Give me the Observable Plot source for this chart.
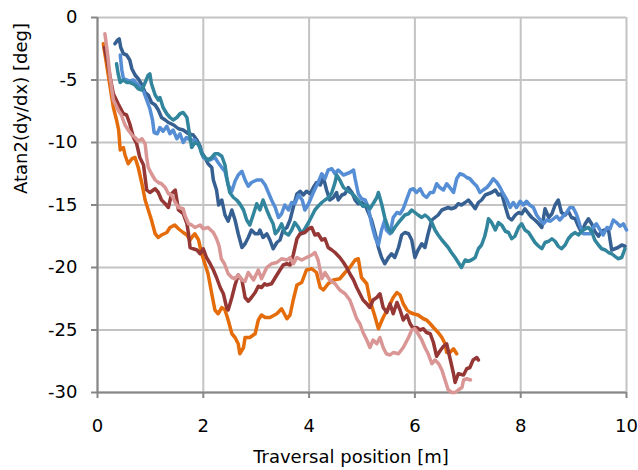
<!DOCTYPE html>
<html>
<head>
<meta charset="utf-8">
<script src="https://cdn.jsdelivr.net/npm/d3@7"></script>
<script src="https://cdn.jsdelivr.net/npm/@observablehq/plot@0.6"></script>
<style>
  html, body { margin: 0; padding: 0; background: #fff; }
  #chart svg { display: block; }
</style>
</head>
<body>
<div id="chart"></div>
<script>
// ---- data: each series is a list of [position (m), angle (deg)] pairs ----
const seriesNames = ["Run 1", "Run 2", "Run 3", "Run 4", "Run 5", "Run 6"];
const seriesColors = ["#376092", "#558ED5", "#31859C", "#E46C0A", "#953735", "#D99694"];

const xTicks = [0, 2, 4, 6, 8, 10];
const yTicks = [0, -5, -10, -15, -20, -25, -30];

const run1 = [[0.33,-2.1],[0.38,-1.8],[0.41,-1.7],[0.44,-2.4],[0.49,-2.9],[0.55,-3.0],[0.61,-3.4],[0.65,-4.1],[0.71,-4.6],[0.77,-4.9],[0.84,-5.4],[0.9,-6.0],[0.96,-6.2],[1.02,-6.8],[1.09,-7.0],[1.15,-7.4],[1.21,-8],[1.28,-8.2],[1.34,-8.4],[1.44,-8.6],[1.53,-8.9],[1.62,-9.0],[1.72,-9.3],[1.81,-9.4],[1.88,-9.8],[1.94,-10.3],[1.97,-10.8],[2.03,-11.2],[2.09,-11.7],[2.16,-12],[2.19,-13],[2.25,-13.8],[2.29,-15.0],[2.35,-14.6],[2.41,-15.8],[2.47,-16.3],[2.54,-15.4],[2.6,-16.2],[2.66,-17.3],[2.73,-18.4],[2.79,-18.1],[2.85,-17.6],[2.91,-17.0],[2.98,-17.3],[3.04,-17.3],[3.07,-17.0],[3.13,-17.6],[3.2,-17.3],[3.26,-17.8],[3.32,-18.5],[3.39,-18],[3.45,-17.8],[3.51,-17.0],[3.58,-16.8],[3.64,-16.2],[3.7,-15.2],[3.77,-14.1],[3.83,-13.9],[3.89,-14.2],[3.95,-13.9],[4.02,-14.1],[4.08,-13.6],[4.14,-13.2],[4.21,-13.4],[4.27,-12.8],[4.33,-13.8],[4.39,-14.6],[4.46,-14.4],[4.52,-14],[4.55,-14.6],[4.62,-14.2],[4.68,-14.1],[4.74,-13.6],[4.81,-14],[4.87,-14.6],[4.93,-14.9],[4.99,-14.8],[5.06,-15],[5.12,-15.6],[5.18,-16.2],[5.25,-17.3],[5.31,-18.4],[5.37,-19.2],[5.43,-19.7],[5.5,-19.2],[5.56,-18.9],[5.62,-19.2],[5.69,-18.4],[5.75,-17.4],[5.81,-17.2],[5.88,-17.3],[5.94,-17.8],[6.0,-19.2],[6.06,-18.6],[6.13,-18.1],[6.19,-18.4],[6.25,-17.3],[6.32,-16.2],[6.38,-16],[6.44,-15.8],[6.51,-15.4],[6.57,-15.3],[6.63,-15.2],[6.69,-15.3],[6.76,-15.2],[6.82,-14.9],[6.88,-15],[6.95,-14.8],[7.01,-14.6],[7.07,-14.9],[7.14,-15.3],[7.2,-14.8],[7.26,-14.6],[7.33,-14.2],[7.39,-14.1],[7.45,-14],[7.52,-13.8],[7.58,-14.2],[7.64,-14.1],[7.7,-15],[7.77,-16],[7.83,-16.2],[7.9,-15.8],[7.96,-15.6],[8.02,-15.7],[8.08,-15.3],[8.15,-15.7],[8.21,-16],[8.27,-16.2],[8.34,-16.5],[8.4,-16.8],[8.46,-15.3],[8.53,-16],[8.59,-15.7],[8.65,-15],[8.71,-14.6],[8.77,-15.6],[8.84,-15.8],[8.9,-15.5],[8.96,-16.0],[9.03,-16.1],[9.09,-16.7],[9.15,-17.2],[9.22,-16.5],[9.28,-16.1],[9.34,-16.5],[9.4,-17.1],[9.47,-17.5],[9.53,-17.1],[9.59,-17.0],[9.66,-17],[9.72,-18.6],[9.78,-18.5],[9.84,-18.4],[9.91,-18.2],[9.97,-18.3]];

const run2 = [[0.43,-3.0],[0.46,-4.2],[0.49,-4.9],[0.55,-5.0],[0.61,-5.1],[0.68,-5.0],[0.74,-5.3],[0.8,-5.5],[0.87,-5.9],[0.93,-6.6],[0.99,-7.3],[1.04,-8.2],[1.07,-9.2],[1.13,-9.3],[1.18,-8.8],[1.24,-9.1],[1.31,-8.7],[1.37,-9.3],[1.43,-9.0],[1.5,-9.7],[1.56,-9.3],[1.62,-10],[1.68,-9.6],[1.75,-9.8],[1.84,-9.8],[1.94,-10.4],[2.0,-11.2],[2.06,-11.3],[2.13,-11.4],[2.22,-11.2],[2.28,-11.6],[2.35,-12.0],[2.41,-12.3],[2.47,-13.4],[2.54,-13.9],[2.6,-13.1],[2.66,-12.6],[2.73,-12.3],[2.79,-13.0],[2.85,-13.5],[2.91,-13.2],[3.01,-13.0],[3.1,-13.0],[3.17,-13.4],[3.23,-14],[3.29,-14.6],[3.36,-15.2],[3.42,-16],[3.48,-15.7],[3.54,-15.0],[3.61,-15.4],[3.67,-14.8],[3.73,-14.9],[3.8,-14.2],[3.87,-14.6],[3.92,-15.4],[3.99,-14.9],[4.08,-14.0],[4.17,-13.2],[4.24,-12.5],[4.3,-12.9],[4.36,-12.2],[4.43,-12.1],[4.49,-12.5],[4.55,-12.2],[4.65,-12.6],[4.71,-12.5],[4.77,-12.4],[4.84,-12.2],[4.87,-12.9],[4.93,-14.1],[4.99,-14.5],[5.06,-14.6],[5.12,-15.2],[5.18,-16.5],[5.25,-17.6],[5.31,-18.2],[5.37,-17.0],[5.43,-16.2],[5.46,-17],[5.53,-17.3],[5.59,-16],[5.66,-15.6],[5.72,-15.7],[5.78,-15.3],[5.84,-14.6],[5.91,-13.8],[5.97,-13.7],[6.03,-14.0],[6.1,-13.7],[6.16,-14.2],[6.22,-14.4],[6.29,-14],[6.35,-14.0],[6.41,-13.3],[6.47,-13.6],[6.54,-13.8],[6.6,-13.3],[6.66,-13.6],[6.73,-14],[6.79,-12.9],[6.85,-12.5],[6.92,-12.6],[6.98,-12.8],[7.04,-12.9],[7.1,-13.2],[7.17,-13.5],[7.23,-14],[7.29,-13.8],[7.36,-13.6],[7.42,-13.3],[7.48,-12.9],[7.55,-13.2],[7.61,-13.6],[7.67,-14.1],[7.74,-14.6],[7.8,-15.2],[7.86,-14.8],[7.92,-15.2],[7.99,-14.7],[8.05,-15],[8.11,-14.7],[8.17,-15.0],[8.24,-15.2],[8.3,-15.8],[8.37,-16.2],[8.43,-16.5],[8.49,-16.2],[8.56,-16.3],[8.62,-16.1],[8.68,-15.9],[8.74,-16.2],[8.8,-15.9],[8.87,-15.6],[8.93,-15.2],[8.99,-15.2],[9.06,-15.8],[9.12,-16.6],[9.18,-17.3],[9.25,-17.3],[9.31,-17.3],[9.37,-16.8],[9.43,-16.5],[9.5,-17.0],[9.56,-17.4],[9.63,-16.8],[9.69,-16.9],[9.75,-16.2],[9.81,-16.4],[9.88,-16.7],[9.94,-16.5],[10.0,-17.0]];

const run3 = [[0.36,-3.7],[0.39,-4.5],[0.43,-5.2],[0.49,-5.0],[0.55,-5.2],[0.61,-5.2],[0.66,-5.3],[0.71,-5.4],[0.77,-5.7],[0.84,-5.8],[0.9,-5.2],[0.96,-4.6],[0.99,-4.5],[1.02,-5.3],[1.09,-6.2],[1.15,-6.6],[1.18,-6.4],[1.24,-7.2],[1.31,-7.7],[1.37,-8.0],[1.43,-8.2],[1.5,-8.0],[1.56,-7.7],[1.62,-7.6],[1.69,-8.0],[1.72,-8.8],[1.75,-9.6],[1.78,-10.4],[1.84,-10],[1.91,-10.1],[1.97,-10.9],[2.03,-11.2],[2.09,-11.4],[2.16,-11.2],[2.22,-10.9],[2.28,-10.9],[2.35,-11.1],[2.41,-11.8],[2.44,-12.7],[2.47,-13.4],[2.5,-14.0],[2.57,-14.4],[2.63,-14.6],[2.69,-14.9],[2.76,-15.4],[2.82,-16.2],[2.88,-16.6],[2.95,-15.7],[3.01,-14.9],[3.07,-15.4],[3.13,-14.6],[3.2,-15.4],[3.26,-16],[3.32,-16.5],[3.36,-17.3],[3.42,-17.0],[3.48,-16.5],[3.54,-17.2],[3.61,-17.4],[3.67,-17.0],[3.73,-16.4],[3.8,-16.8],[3.86,-17.3],[3.92,-16.9],[3.99,-16.4],[4.05,-15.9],[4.11,-15.4],[4.17,-15.1],[4.24,-14.8],[4.3,-14.6],[4.37,-14.4],[4.43,-14.0],[4.49,-13.2],[4.52,-12.6],[4.58,-13.0],[4.65,-13.6],[4.71,-13.8],[4.78,-14.0],[4.84,-14.2],[4.9,-14.5],[4.96,-14.8],[5.02,-15.1],[5.09,-15.0],[5.15,-15.3],[5.21,-14.9],[5.28,-14.4],[5.31,-14.0],[5.37,-14.9],[5.43,-16],[5.5,-16.9],[5.56,-17.2],[5.62,-16.8],[5.69,-16.4],[5.75,-16.1],[5.81,-15.8],[5.88,-15.7],[5.94,-15.4],[6.0,-15.6],[6.06,-15.8],[6.13,-16],[6.19,-15.8],[6.25,-16],[6.32,-16.4],[6.38,-17],[6.44,-17.4],[6.51,-17.8],[6.57,-18.1],[6.63,-18.4],[6.69,-18.8],[6.76,-19.2],[6.82,-19.6],[6.88,-20],[6.95,-19.4],[7.01,-19.5],[7.07,-19.4],[7.14,-19.2],[7.2,-18.5],[7.26,-18.2],[7.32,-17.5],[7.36,-16.8],[7.39,-16.1],[7.45,-16.4],[7.52,-17.0],[7.58,-16.4],[7.64,-16.6],[7.71,-17.1],[7.77,-17.2],[7.83,-17.7],[7.89,-17.5],[7.96,-16.8],[8.02,-16.5],[8.08,-17.0],[8.15,-17.2],[8.21,-17.6],[8.27,-18.0],[8.34,-18.3],[8.4,-18.5],[8.46,-18.0],[8.53,-17.9],[8.59,-17.7],[8.65,-17.9],[8.71,-18.3],[8.77,-18.5],[8.84,-18.2],[8.9,-17.7],[8.96,-17.4],[9.03,-17.2],[9.09,-17.4],[9.15,-17.1],[9.22,-16.9],[9.28,-16.8],[9.34,-17.1],[9.4,-17.8],[9.47,-18.2],[9.53,-18.5],[9.6,-18.6],[9.66,-18.8],[9.72,-18.9],[9.78,-19.1],[9.84,-19.3],[9.91,-19.2],[9.97,-18.5]];

const run4 = [[0.11,-2.1],[0.17,-3.7],[0.24,-5.6],[0.3,-7.2],[0.36,-8.2],[0.4,-9.0],[0.43,-10.6],[0.49,-10.4],[0.52,-11],[0.58,-11.7],[0.65,-11.3],[0.71,-11.2],[0.77,-12],[0.84,-13.3],[0.9,-14.6],[0.96,-15.4],[1.02,-16.2],[1.09,-17.3],[1.15,-17.6],[1.21,-17.4],[1.31,-17.2],[1.37,-16.8],[1.46,-16.6],[1.53,-16.9],[1.62,-17.2],[1.69,-17.4],[1.75,-17.8],[1.78,-17.6],[1.84,-17.3],[1.91,-17.8],[1.97,-18.9],[2.03,-19.7],[2.09,-20.5],[2.16,-22.1],[2.22,-23.4],[2.28,-23.7],[2.35,-23.2],[2.41,-23.4],[2.47,-24.2],[2.54,-25.3],[2.6,-25.6],[2.66,-26.1],[2.69,-26.9],[2.76,-26.4],[2.79,-25.6],[2.88,-25.6],[2.98,-25.3],[3.04,-24.2],[3.1,-23.8],[3.17,-24],[3.26,-24],[3.39,-23.7],[3.48,-23.3],[3.58,-24.1],[3.64,-23.8],[3.7,-22.6],[3.77,-21.4],[3.86,-21.2],[3.95,-20.2],[4.05,-20.1],[4.14,-20.4],[4.21,-21.6],[4.27,-21.8],[4.36,-21.3],[4.46,-21],[4.58,-20.9],[4.68,-20.4],[4.77,-20],[4.87,-19.4],[4.93,-19.3],[4.99,-20.8],[5.09,-21.3],[5.15,-22.6],[5.25,-24],[5.31,-24.9],[5.4,-24],[5.5,-23.2],[5.59,-22.4],[5.66,-22],[5.72,-22.2],[5.78,-22.9],[5.85,-23.4],[5.91,-23.6],[5.97,-23.7],[6.06,-23.8],[6.16,-24.1],[6.22,-24.2],[6.29,-24.5],[6.35,-24.8],[6.44,-25.2],[6.51,-25.6],[6.57,-26.1],[6.6,-26.8],[6.66,-26.8],[6.73,-26.5],[6.79,-26.9]];

const run5 = [[0.13,-2.4],[0.19,-3.6],[0.24,-4.8],[0.3,-6.1],[0.39,-6.9],[0.49,-7.7],[0.55,-7.8],[0.61,-8.5],[0.68,-9.6],[0.74,-10.1],[0.8,-11.2],[0.87,-11.8],[0.9,-12.8],[0.93,-13.8],[0.99,-14],[1.09,-13.7],[1.15,-14.0],[1.21,-14.6],[1.28,-14.9],[1.34,-15.2],[1.4,-14.1],[1.47,-13.8],[1.5,-14.6],[1.53,-15.4],[1.62,-15.7],[1.69,-16.5],[1.72,-17.3],[1.75,-18.4],[1.81,-18.5],[1.88,-18.6],[1.94,-18.9],[2.0,-18.5],[2.06,-19.2],[2.13,-19.7],[2.19,-20.2],[2.25,-20.8],[2.32,-21.6],[2.38,-22.1],[2.44,-23.2],[2.47,-23.4],[2.54,-22.4],[2.6,-21.4],[2.66,-20.6],[2.73,-21],[2.79,-22.4],[2.85,-22.7],[2.91,-22.4],[2.98,-22],[3.04,-21.5],[3.1,-21.6],[3.16,-21.3],[3.2,-21.4],[3.29,-21.3],[3.39,-20.6],[3.45,-20.2],[3.51,-19.8],[3.58,-19.7],[3.64,-19.8],[3.7,-19.0],[3.77,-17.7],[3.83,-17.3],[3.92,-17.2],[3.99,-16.9],[4.05,-16.8],[4.11,-17.4],[4.17,-17.3],[4.24,-17.8],[4.3,-17.7],[4.36,-18.4],[4.43,-18.6],[4.49,-18.8],[4.58,-19.2],[4.65,-19.6],[4.71,-20],[4.77,-20.5],[4.84,-21],[4.9,-21.6],[4.96,-22.1],[5.02,-22.6],[5.09,-22.9],[5.15,-23.2],[5.21,-22.6],[5.28,-22.4],[5.34,-22.1],[5.4,-23.2],[5.47,-23.6],[5.53,-22.9],[5.59,-23.7],[5.66,-22.8],[5.72,-23.4],[5.78,-24.2],[5.85,-23.8],[5.91,-24.5],[5.97,-24.9],[6.03,-24.8],[6.1,-25],[6.16,-24.9],[6.22,-25.2],[6.29,-25.3],[6.35,-26.0],[6.41,-27.1],[6.47,-26.7],[6.54,-26.3],[6.6,-26.1],[6.66,-27.2],[6.73,-28.5],[6.76,-29.2],[6.82,-28.5],[6.92,-28.6],[6.98,-28.1],[7.04,-28],[7.1,-27.4],[7.17,-27.2],[7.2,-27.4]];

const run6 = [[0.14,-1.3],[0.19,-2.9],[0.24,-4.8],[0.3,-6.6],[0.39,-7.4],[0.45,-7.8],[0.52,-8.6],[0.58,-9.0],[0.65,-9.4],[0.71,-9.6],[0.77,-9.9],[0.84,-9.7],[0.9,-10.1],[0.93,-11.2],[0.96,-12],[1.02,-12.5],[1.09,-13],[1.15,-13.2],[1.21,-13.3],[1.28,-13.6],[1.34,-14.1],[1.4,-14.2],[1.47,-14.8],[1.53,-15.2],[1.62,-15.3],[1.65,-15.8],[1.72,-16.5],[1.78,-16.6],[1.84,-16.8],[1.94,-16.6],[2.0,-16.9],[2.09,-16.8],[2.19,-17.2],[2.25,-17.7],[2.3,-18.3],[2.34,-19.3],[2.4,-19.7],[2.47,-20.5],[2.54,-20.8],[2.6,-20.9],[2.66,-20.6],[2.73,-21.0],[2.79,-21.1],[2.85,-20.4],[2.95,-21],[3.04,-20.2],[3.1,-20.9],[3.2,-20],[3.29,-19.7],[3.39,-19.6],[3.48,-19.3],[3.58,-19.4],[3.64,-19.2],[3.7,-19.7],[3.77,-19.2],[3.86,-19.4],[3.95,-19.2],[4.05,-19.0],[4.11,-18.8],[4.17,-19.4],[4.24,-20.9],[4.3,-20.4],[4.39,-21],[4.49,-21.3],[4.58,-21.8],[4.68,-22.1],[4.77,-22.6],[4.84,-23.4],[4.9,-24.1],[4.96,-24.5],[5.02,-25.2],[5.09,-25.8],[5.15,-26.4],[5.21,-25.8],[5.28,-26.1],[5.34,-25.6],[5.4,-26.4],[5.46,-26.9],[5.53,-27],[5.59,-26.8],[5.69,-26.9],[5.78,-26.4],[5.88,-25.6],[5.94,-25],[6.0,-24.9],[6.06,-25.3],[6.13,-25.8],[6.19,-26.4],[6.25,-26.9],[6.32,-27.7],[6.38,-27.4],[6.45,-27.7],[6.51,-28.2],[6.57,-29.0],[6.63,-29.8],[6.7,-30],[6.76,-30],[6.82,-29.8],[6.89,-29.6],[6.92,-29.0],[6.98,-28.9],[7.05,-29.0]];

const xTitle = "Traversal position [m]";
const yTitle = "Atan2(dy/dx) [deg]";

// ---- build a long table for Plot ----
const seriesData = [run1, run2, run3, run4, run5, run6];
const rows = seriesNames.flatMap((name, i) =>
  seriesData[i].map(([x, y]) => ({series: name, x, y}))
);

const chart = Plot.plot({
  width: 638,
  height: 470,
  marginLeft: 97,
  marginRight: 12,
  marginTop: 17,
  marginBottom: 78,
  style: {fontFamily: "'DejaVu Sans', Verdana, sans-serif", fontSize: "18px", color: "#000", background: "#fff"},
  x: {domain: [0, 10], label: null},
  y: {domain: [-30, 0], label: null},
  color: {type: "ordinal", domain: seriesNames, range: seriesColors},
  marks: [
    Plot.gridX(xTicks, {stroke: "#c3c3c3", strokeOpacity: 1, strokeWidth: 2}),
    Plot.gridY(yTicks, {stroke: "#c3c3c3", strokeOpacity: 1, strokeWidth: 2}),
    Plot.axisX(xTicks, {tickSize: 6, tickPadding: 21, stroke: "#868686", strokeWidth: 2, tickFormat: d => String(d), fill: "#000", label: null}),
    Plot.axisY(yTicks, {tickSize: 6, tickPadding: 14, stroke: "#868686", strokeWidth: 2, tickFormat: d => String(d), fill: "#000", label: null}),
    Plot.ruleX([0], {stroke: "#868686", strokeWidth: 2}),
    Plot.ruleY([-30], {stroke: "#868686", strokeWidth: 2}),
    Plot.line(rows, {x: "x", y: "y", z: "series", stroke: "series", strokeWidth: 3.5, strokeLinejoin: "round", strokeLinecap: "round"}),
    Plot.text([xTitle], {frameAnchor: "bottom", dx: -11, dy: 70, fontSize: 18, fill: "#000"}),
    Plot.text([yTitle], {frameAnchor: "left", rotate: -90, dx: -76, dy: -11, fontSize: 18, fill: "#000"})
  ]
});

document.getElementById("chart").appendChild(chart);
</script>
</body>
</html>
